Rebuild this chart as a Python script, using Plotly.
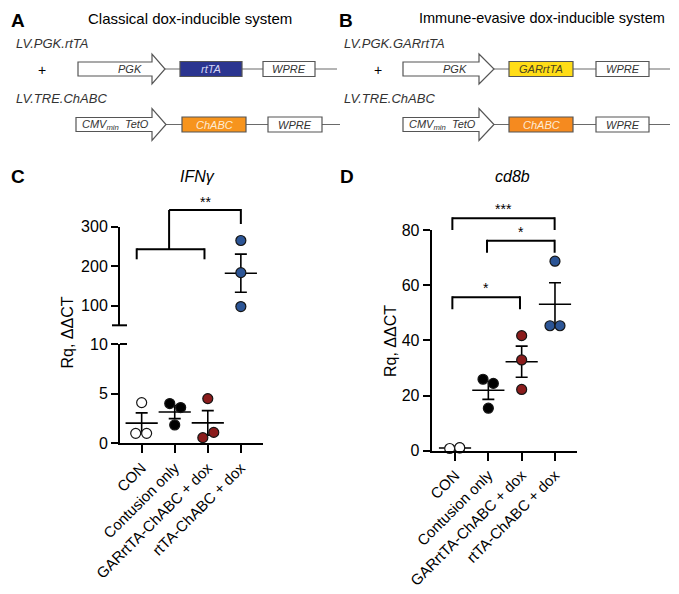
import numpy as np
import plotly.graph_objects as go

# page offset of the plot div inside the browser (default body margin)
OX, OY = 8, 8
W, H = 671, 586
FONT = "Liberation Sans, Arial, Helvetica, sans-serif"

# ---------------- data ----------------
categories = ["CON", "Contusion only", "GARrtTA-ChABC + dox", "rtTA-ChABC + dox"]

# Panel C: IFNγ  (Rq, ΔΔCT)
ifng_con = [4.1, 1.0, 1.0]
ifng_contusion = [4.0, 3.6, 1.85]
ifng_garrtta = [4.5, 0.57, 1.1]
ifng_rtta = [265, 183.5, 97.5]

# Panel D: cd8b  (Rq, ΔΔCT)
cd8b_con = [0.8, 1.0, 1.1]
cd8b_contusion = [25.9, 24.4, 15.4]
cd8b_garrtta = [41.7, 32.9, 22.2]
cd8b_rtta = [68.7, 45.3, 45.3]

# tick labels
ifng_low_ticks = [0, 5, 10]
ifng_high_ticks = [100, 200, 300]
cd8b_ticks = [0, 20, 40, 60, 80]

# significance labels
ifng_sig = ["**"]
cd8b_sig = ["***", "*", "*"]

# ---------------- styling / layout helpers ----------------
group_colors = ["white", "black", "#8B1C1C", "#2C5596"]
# horizontal jitter (in category units) for each point of each group
jit_c = [[0, -0.18, 0.15], [-0.15, 0.18, 0], [0, -0.15, 0.18], [0, 0, 0]]
jit_d = [[-0.16, 0.14, 0.14], [-0.16, 0.15, 0], [0, 0, 0], [0, -0.15, 0.15]]


def px(x):
    return (x - OX) / W


def py(y):
    return 1 - (y - OY) / H


fig = go.Figure()


def add_points(vals_list, jits, xa, ya_list):
    for i, (vals, jit) in enumerate(zip(vals_list, jits)):
        ya = ya_list[i]
        m = float(np.mean(vals))
        sem = float(np.std(vals, ddof=1) / np.sqrt(len(vals)))
        fig.add_trace(go.Scatter(
            x=[i], y=[m], xaxis=xa, yaxis=ya, mode="markers",
            marker=dict(symbol="line-ew", size=23, color="black",
                        line=dict(width=1.6, color="black")),
            error_y=dict(type="data", array=[sem], visible=True,
                         thickness=1.6, width=6, color="black"),
            cliponaxis=False, showlegend=False, hoverinfo="skip"))
        fig.add_trace(go.Scatter(
            x=[i + j for j in jit], y=vals, xaxis=xa, yaxis=ya, mode="markers",
            marker=dict(size=10, color=group_colors[i],
                        line=dict(width=1.2, color="#151515")),
            cliponaxis=False, showlegend=False))


add_points([ifng_con, ifng_contusion, ifng_garrtta, ifng_rtta], jit_c, "x",
           ["y", "y", "y", "y2"])
add_points([cd8b_con, cd8b_contusion, cd8b_garrtta, cd8b_rtta], jit_d, "x3",
           ["y3", "y3", "y3", "y3"])

ax_common = dict(showline=True, linewidth=2, linecolor="black", ticks="outside",
                 tickwidth=2, tickcolor="black", showgrid=False, automargin=False,
                 zeroline=False)
yfont = dict(tickfont=dict(family=FONT, size=16, color="black"))
xfont = dict(tickfont=dict(family=FONT, size=15, color="black"))

fig.update_layout(
    template="none",
    width=W, height=H, margin=dict(l=0, r=0, t=0, b=0, pad=0, autoexpand=False),
    paper_bgcolor="white", plot_bgcolor="rgba(0,0,0,0)", showlegend=False,
    xaxis=dict(domain=[px(120), px(263)], range=[-0.655, 3.67], anchor="y",
               tickvals=list(range(4)), ticktext=categories, tickangle=-45,
               ticklen=8, **ax_common, **xfont),
    yaxis=dict(domain=[py(443.3), py(344)], range=[0, 10], anchor="x",
               tickvals=ifng_low_ticks, ticklen=7, **ax_common, **yfont),
    yaxis2=dict(domain=[py(325.3), py(226.7)], range=[50, 300], anchor="x",
                tickvals=ifng_high_ticks, ticklen=7, **ax_common, **yfont),
    xaxis3=dict(domain=[px(431.7), px(577.3)], range=[-0.7, 3.67], anchor="y3",
                tickvals=list(range(4)), ticktext=categories, tickangle=-45,
                ticklen=8, **ax_common, **xfont),
    yaxis3=dict(domain=[py(450.7), py(230)], range=[0, 80], anchor="x3",
                tickvals=cd8b_ticks, ticklen=7, **ax_common, **yfont),
)

shapes = []
annotations = []


def line(x0, y0, x1, y1, xref="paper", color="black", width=2):
    shapes.append(dict(type="line", xref=xref, yref="paper",
                       x0=x0 if xref != "paper" else px(x0), x1=x1 if xref != "paper" else px(x1),
                       y0=py(y0), y1=py(y1), line=dict(color=color, width=width)))


def text(x, y, s, size=14, color="black", xanchor="center", xref="paper", angle=0):
    annotations.append(dict(x=x if xref != "paper" else px(x), y=py(y), xref=xref, yref="paper",
                            text=s, showarrow=False, xanchor=xanchor, yanchor="middle",
                            textangle=angle,
                            font=dict(family=FONT, size=size, color=color)))


# broken-axis marks (ticks crossing the axis)
line(112, 325.3, 127, 325.3)
line(120, 344, 127, 344)

# Panel C brackets
line(-0.15, 249.3, 1.9, 249.3, xref="x")
line(-0.15, 248.3, -0.15, 259.3, xref="x")
line(1.9, 248.3, 1.9, 259.3, xref="x")
line(0.83, 249.3, 0.83, 210, xref="x")
line(0.83, 210, 3.0, 210, xref="x")
line(3.0, 209, 3.0, 224, xref="x")
text(1.92, 202, ifng_sig[0], size=14, xref="x")

# Panel D brackets
for (a, b, ytop, ybot, s) in [(-0.08, 2.99, 218.3, 230, cd8b_sig[0]),
                              (0.96, 2.99, 240.7, 252.7, cd8b_sig[1]),
                              (-0.08, 1.95, 297.3, 309.3, cd8b_sig[2])]:
    line(a, ytop, b, ytop, xref="x3")
    line(a, ytop - 1, a, ybot, xref="x3")
    line(b, ytop - 1, b, ybot, xref="x3")
    text((a + b) / 2, ytop - 9, s, size=14, xref="x3")

# titles and labels
text(66.5, 333, "Rq, ΔΔCT", size=16, angle=-90)
text(390, 341, "Rq, ΔΔCT", size=16, angle=-90)
text(197.5, 176, "<i>IFNγ</i>", size=16)
text(512, 176, "<i>cd8b</i>", size=16)
text(9, 177, "<b>C</b>", size=19, xanchor="left")
text(347, 177, "<b>D</b>", size=19)
text(9, 21, "<b>A</b>", size=19, xanchor="left")
text(346, 21, "<b>B</b>", size=19)
text(190, 18, "Classical dox-inducible system", size=15)
text(542, 18, "Immune-evasive dox-inducible system", size=14.5)

# ---------------- schematics (panels A, B) ----------------
GRAY = "#6a6a6a"


def arrow(x0, x1, xh, yc, hb=7, hh=15):
    pts = [(x0, yc - hb), (x1, yc - hb), (x1, yc - hh), (xh, yc), (x1, yc + hh),
           (x1, yc + hb), (x0, yc + hb)]
    path = "M " + " L ".join(f"{px(a):.5f},{py(b):.5f}" for a, b in pts) + " Z"
    shapes.append(dict(type="path", xref="paper", yref="paper", path=path,
                       fillcolor="white", line=dict(color="#555", width=1.2)))


def box(x0, x1, yc, fill, label, tcolor, hb=7.5):
    shapes.append(dict(type="rect", xref="paper", yref="paper", x0=px(x0), x1=px(x1),
                       y0=py(yc + hb), y1=py(yc - hb), fillcolor=fill,
                       line=dict(color="#555", width=1.2)))
    text((x0 + x1) / 2, yc, f"<i>{label}</i>", size=11, color=tcolor)


rows = [
    (69, 78, 152, 165, 337, (180, 242), "#2B3590", "rtTA", "#D6D6F5", (263, 315), "PGK", 129.5),
    (124.5, 76, 152, 166, 340, (182, 246), "#F7941D", "ChABC", "#FDEBD5", (268, 322),
     "CMV<sub>min</sub>  TetO", 115),
    (69, 403, 479, 494, 670, (509, 573), "#FFDD17", "GARrtTA", "#4a4320", (596, 649), "PGK", 455),
    (124.5, 403, 479, 494, 670, (509, 573), "#F58A1F", "ChABC", "#FDEBD5", (596, 649),
     "CMV<sub>min</sub>  TetO", 442),
]
for (yc, ax0, ax1, tip, lend, gb, gfill, glab, gtc, wb, ptxt, ptx) in rows:
    line(tip, yc, lend, yc, color=GRAY, width=1.2)
    arrow(ax0, ax1, tip, yc, hh=15 if yc < 100 else 16)
    text(ptx, yc, f"<i>{ptxt}</i>", size=11, color="#333")
    box(gb[0], gb[1], yc, gfill, glab, gtc)
    box(wb[0], wb[1], yc, "white", "WPRE", "#333")

text(14, 43, "<i>LV.PGK.rtTA</i>", size=13, color="#333", xanchor="left")
text(14, 99, "<i>LV.TRE.ChABC</i>", size=13, color="#333", xanchor="left")
text(342, 43, "<i>LV.PGK.GARrtTA</i>", size=13, color="#333", xanchor="left")
text(342, 99, "<i>LV.TRE.ChABC</i>", size=13, color="#333", xanchor="left")
text(42, 70, "+", size=14)
text(378, 70, "+", size=14)

fig.update_layout(shapes=shapes, annotations=annotations)
fig.write_html("out.html")
